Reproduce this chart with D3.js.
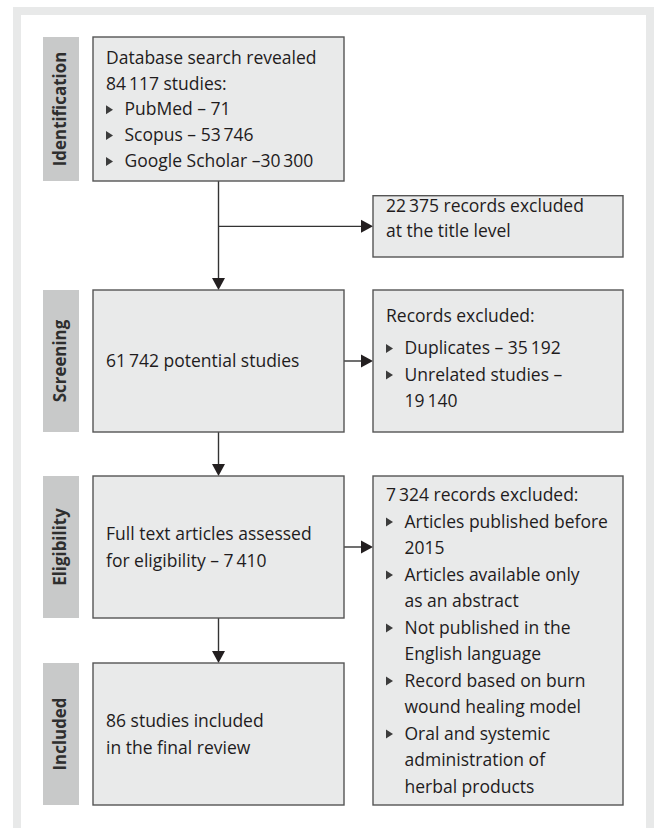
<!DOCTYPE html>
<html>
<head>
<meta charset="utf-8">
<script src="https://cdn.jsdelivr.net/npm/d3@7"></script>
<style>
    body { margin: 0; background: #fff; }
    svg { display: block; }
    .frame-outer { fill: #e8e9e9; }
    .frame-inner { fill: #fff; }
    .stage-bg { fill: #c8c9c9; }
    .stage-label { font-family: "Open Sans", Lato, sans-serif; font-weight: 700; font-size: 16.9px; fill: #2e2e2e; }
    .box { fill: #e9eaea; stroke: #555; stroke-width: 1.4; }
    .box-text { font-family: "Open Sans", Lato, sans-serif; font-size: 17.5px; fill: #1f1c1d; }
    .bullet { fill: #3c3c3c; }
    .link { fill: none; stroke: #333; stroke-width: 1.4; }
    .arrow-head { fill: #231f20; }
</style>
</head>
<body>
<div id="chart"></div>
<script>
//////////////////////////////////////////////////////////////
/////////////////////////// Data /////////////////////////////
//////////////////////////////////////////////////////////////

const stages = ["Identification", "Screening", "Eligibility", "Included"]

const searchLines = ["Database search revealed", "84\u2009117 studies:"]
const searchSources = [["PubMed – 71"], ["Scopus – 53\u2009746"], ["Google Scholar –30\u2009300"]]

const titleExcluded = ["22\u2009375 records excluded", "at the title level"]

const screenedLines = ["61\u2009742 potential studies"]

const screenExcludedHeader = ["Records excluded:"]
const screenExcludedReasons = [["Duplicates – 35\u2009192"], ["Unrelated studies –", "19\u2009140"]]

const assessedLines = ["Full text articles assessed", "for eligibility – 7\u2009410"]

const fullTextHeader = ["7\u2009324 records excluded:"]
const fullTextReasons = [
    ["Articles published before", "2015"],
    ["Articles available only", "as an abstract"],
    ["Not published in the", "English language"],
    ["Record based on burn", "wound healing model"],
    ["Oral and systemic", "administration of", "herbal products"]
]

const includedLines = ["86 studies included", "in the final review"]

//////////////////////////////////////////////////////////////
////////////////////////// Layout ////////////////////////////
//////////////////////////////////////////////////////////////

const width = 654
const height = 828

const columns = {
    label: [43, 79],
    main: [93, 344],
    side: [373, 623]
}

const lineHeight = 26.5
const baselineShift = 6.3 //baseline of the middle line sits this far under the box centre
const textPad = 13
const bulletIndent = 18.5

//turn plain lines and bullet lists into one list of text rows
function plain(lines, dy) {
    return lines.map(t => ({ text: t, bullet: false, indent: false, dy: dy || 0 }))
}
function bullets(items) {
    return items.flatMap(item => item.map((t, i) => ({ text: t, bullet: i === 0, indent: true, dy: 0 })))
}

const nodes = [
    { id: "search", col: "main", y: [37, 181], lh: 25.8, rows: plain(searchLines).concat(bullets(searchSources)) },
    { id: "titleEx", col: "side", y: [195.7, 257], lh: 25.5, shift: -8, rows: plain(titleExcluded) },
    { id: "screened", col: "main", y: [290, 432], rows: plain(screenedLines) },
    { id: "screenEx", col: "side", y: [290, 432], rows: plain(screenExcludedHeader, -6).concat(bullets(screenExcludedReasons)) },
    { id: "assessed", col: "main", y: [476, 618], rows: plain(assessedLines) },
    { id: "fullEx", col: "side", y: [476, 805], rows: plain(fullTextHeader).concat(bullets(fullTextReasons)) },
    { id: "included", col: "main", y: [663, 805], rows: plain(includedLines) }
]

const stageRows = [[37, 181], [290, 432], [476, 618], [663, 805]]

const links = [
    { source: "search", target: "screened", type: "down" },
    { source: "search", target: "titleEx", type: "branch" },
    { source: "screened", target: "screenEx", type: "side" },
    { source: "screened", target: "assessed", type: "down" },
    { source: "assessed", target: "fullEx", type: "side" },
    { source: "assessed", target: "included", type: "down" }
]

const headLength = 12
const headWidth = 13

//////////////////////////////////////////////////////////////
//////////////////////// Create SVG //////////////////////////
//////////////////////////////////////////////////////////////

const svg = d3.select("#chart").append("svg")
    .attr("width", width)
    .attr("height", height)

//Grey frame round the figure, open at the bottom
svg.append("rect")
    .attr("class", "frame-outer")
    .attr("x", 13).attr("y", 7)
    .attr("width", width - 13).attr("height", height - 7)
svg.append("rect")
    .attr("class", "frame-inner")
    .attr("x", 21).attr("y", 15)
    .attr("width", 646 - 21).attr("height", height - 15)

//////////////////////////////////////////////////////////////
/////////////////////// Stage labels /////////////////////////
//////////////////////////////////////////////////////////////

const stageGroup = svg.append("g").attr("class", "stage-group")

const stage = stageGroup.selectAll(".stage")
    .data(stages)
    .enter().append("g")
    .attr("class", "stage")

stage.append("rect")
    .attr("class", "stage-bg")
    .attr("x", columns.label[0])
    .attr("y", (d, i) => stageRows[i][0])
    .attr("width", columns.label[1] - columns.label[0])
    .attr("height", (d, i) => stageRows[i][1] - stageRows[i][0])

stage.append("text")
    .attr("class", "stage-label")
    .attr("text-anchor", "middle")
    .attr("transform", (d, i) => "translate(" + [65.5, (stageRows[i][0] + stageRows[i][1]) / 2] + ") rotate(-90)")
    .text(d => d)

//////////////////////////////////////////////////////////////
/////////////////////////// Links ////////////////////////////
//////////////////////////////////////////////////////////////

const nodeById = new Map(nodes.map(d => [d.id, d]))
const boxX = d => columns[d.col]
const midX = d => (boxX(d)[0] + boxX(d)[1]) / 2
const midY = d => (d.y[0] + d.y[1]) / 2

const line = d3.line()

//returns the line points and the arrow tip with its direction
function linkGeometry(l) {
    const s = nodeById.get(l.source)
    const t = nodeById.get(l.target)
    if (l.type === "down") {
        return { start: [midX(s), s.y[1]], tip: [midX(s), t.y[0]], dir: "down" }
    } else if (l.type === "side") {
        return { start: [boxX(s)[1], midY(s)], tip: [boxX(t)[0], midY(s)], dir: "right" }
    } else {
        //branch off the vertical line at the height of the target box
        return { start: [midX(s), midY(t)], tip: [boxX(t)[0], midY(t)], dir: "right" }
    }
}

function headPath(g) {
    const [x, y] = g.tip
    const h = headWidth / 2
    if (g.dir === "down") return "M" + [x, y] + "L" + [x - h, y - headLength] + "L" + [x + h, y - headLength] + "Z"
    return "M" + [x, y] + "L" + [x - headLength, y - h] + "L" + [x - headLength, y + h] + "Z"
}

const linkGroup = svg.append("g").attr("class", "link-group")
const geoms = links.map(linkGeometry)

linkGroup.selectAll(".link")
    .data(geoms)
    .enter().append("path")
    .attr("class", "link")
    .attr("d", g => {
        const end = g.dir === "down" ? [g.tip[0], g.tip[1] - headLength + 1] : [g.tip[0] - headLength + 1, g.tip[1]]
        return line([g.start, end])
    })

linkGroup.selectAll(".arrow-head")
    .data(geoms)
    .enter().append("path")
    .attr("class", "arrow-head")
    .attr("d", headPath)

//////////////////////////////////////////////////////////////
/////////////////////////// Boxes ////////////////////////////
//////////////////////////////////////////////////////////////

const boxGroup = svg.append("g").attr("class", "box-group")

const box = boxGroup.selectAll(".node")
    .data(nodes)
    .enter().append("g")
    .attr("class", "node")

box.append("rect")
    .attr("class", "box")
    .attr("x", d => boxX(d)[0])
    .attr("y", d => d.y[0])
    .attr("width", d => boxX(d)[1] - boxX(d)[0])
    .attr("height", d => d.y[1] - d.y[0])

//baseline of row i in a node, rows centred on the box
function baseline(d, i) {
    const lh = d.lh || lineHeight
    const n = d.rows.length
    return midY(d) + baselineShift + (d.shift || 0) + (i - (n - 1) / 2) * lh + d.rows[i].dy
}

box.each(function(d) {
    const g = d3.select(this)
    const x0 = boxX(d)[0] + textPad

    g.selectAll(".box-text")
        .data(d.rows)
        .enter().append("text")
        .attr("class", "box-text")
        .attr("x", r => x0 + (r.indent ? bulletIndent : 0))
        .attr("y", (r, i) => baseline(d, i))
        .text(r => r.text)

    g.selectAll(".bullet")
        .data(d.rows.map((r, i) => ({ r, i })).filter(e => e.r.bullet))
        .enter().append("path")
        .attr("class", "bullet")
        .attr("d", e => {
            const b = baseline(d, e.i)
            return "M" + [x0, b - 10] + "L" + [x0 + 7, b - 5.5] + "L" + [x0, b - 1] + "Z"
        })
})
</script>
</body>
</html>
